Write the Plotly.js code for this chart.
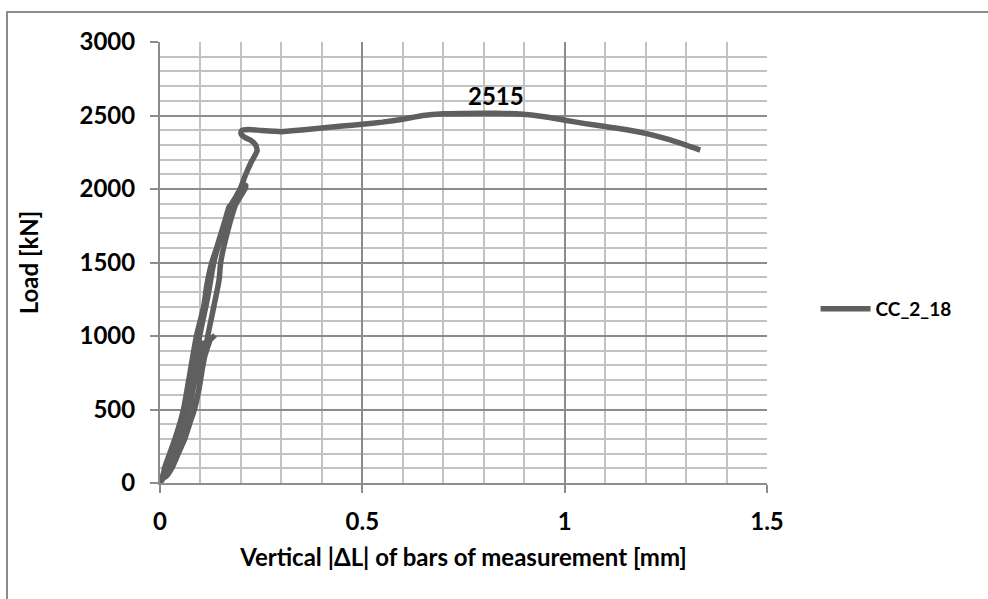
<!DOCTYPE html>
<html>
<head>
<meta charset="utf-8">
<script src="https://cdn.plot.ly/plotly-3.0.1.min.js"></script>
<style>html,body{margin:0;padding:0;background:#fff;}#chart{width:988px;height:599px;}</style>
</head>
<body>
<div id="chart"></div>
<script>
// Vertical |ΔL| of bars of measurement [mm]
const deltaL = [
  // load to 1000
  0, 0.013, 0.029, 0.045, 0.061, 0.073, 0.084, 0.096, 0.106, 0.114, 0.124, 0.136,
  // unload from 1000
  0.124, 0.107, 0.088, 0.075, 0.061, 0.049, 0.039, 0.026, 0.012, 0.004,
  // reload to 2000
  0.01, 0.019, 0.033, 0.048, 0.069, 0.088, 0.098, 0.118, 0.133, 0.153, 0.177, 0.202, 0.212,
  // unload from 2000
  0.21, 0.188, 0.166, 0.15, 0.146, 0.133, 0.118, 0.106, 0.096, 0.085, 0.059, 0.029, 0.014,
  // reload to 1000 again
  0.01, 0.022, 0.037, 0.052, 0.075, 0.09, 0.104, 0.1, 0.09, 0.076, 0.064, 0.043, 0.022, 0.008,
  // reload to failure
  0.011, 0.024, 0.037, 0.058, 0.071, 0.09, 0.108, 0.116, 0.128, 0.14, 0.16, 0.171, 0.178, 0.182, 0.198, 0.212, 0.225, 0.24,
  0.236, 0.225, 0.21, 0.2, 0.202, 0.22, 0.25, 0.3, 0.35, 0.4, 0.45, 0.5, 0.55, 0.6, 0.65, 0.7, 0.75, 0.83,
  0.89, 0.95, 1.0, 1.05, 1.1, 1.15, 1.2, 1.25, 1.3, 1.335
];
// Load [kN]
const load = [
  0, 50, 100, 200, 300, 400, 500, 633, 800, 900, 973, 1005,
  973, 837, 760, 700, 500, 400, 300, 200, 100, 20,
  60, 100, 200, 300, 500, 800, 1000, 1265, 1500, 1700, 1900, 2000, 2025,
  2000, 1900, 1700, 1500, 1381, 1200, 1000, 800, 633, 500, 300, 100, 40,
  60, 150, 250, 350, 550, 750, 950, 900, 750, 600, 450, 280, 120, 30,
  100, 200, 300, 500, 700, 1000, 1200, 1350, 1500, 1600, 1780, 1880, 1900, 1920, 2000, 2100, 2180, 2260,
  2300, 2330, 2350, 2378, 2398, 2405, 2398, 2390, 2402, 2415, 2428, 2440, 2455, 2475, 2500, 2512, 2514, 2515,
  2510, 2492, 2468, 2445, 2425, 2405, 2378, 2342, 2298, 2265
];
const seriesName = "CC_2_18";
const peakLabel = "2515";
const peakX = 0.83;
const peakY = 2515;
const xTitle = "Vertical |ΔL| of bars of measurement [mm]";
const yTitle = "Load [kN]";

const font = "Lato, 'Open Sans', 'DejaVu Sans', sans-serif";
const txt = {family: font, size: 24, color: "#000", weight: "bold"};
const data = [{
  x: deltaL, y: load, type: "scatter", mode: "lines", name: seriesName,
  line: {color: "#5f5f5f", width: 5.5, shape: "spline", smoothing: 0.5}
}];
const layout = {
  width: 988, height: 599,
  margin: {l: 160, r: 221, t: 42, b: 116},
  paper_bgcolor: "#fff", plot_bgcolor: "#fff",
  font: txt,
  showlegend: true,
  legend: {x: 1.08, y: 0.395, xanchor: "left", yanchor: "middle",
           font: {family: font, size: 19, color: "#000", weight: "bold"},
           bgcolor: "rgba(0,0,0,0)", itemwidth: 50},
  xaxis: {
    range: [0, 1.5], dtick: 0.5, tick0: 0, fixedrange: true,
    showgrid: true, gridcolor: "#8c8c8c", gridwidth: 2,
    minor: {dtick: 0.1, showgrid: true, gridcolor: "#c2c2c2", gridwidth: 2},
    zeroline: false, showline: true, linecolor: "#8c8c8c", linewidth: 2,
    ticks: "outside", ticklen: 8, tickcolor: "#8c8c8c", tickwidth: 2,
    ticklabelstandoff: 8,
    tickfont: txt,
    title: {text: xTitle, standoff: 15, font: txt}
  },
  yaxis: {
    range: [0, 3000], dtick: 500, tick0: 0, fixedrange: true,
    showgrid: true, gridcolor: "#8c8c8c", gridwidth: 2,
    minor: {dtick: 100, showgrid: true, gridcolor: "#c2c2c2", gridwidth: 2},
    zeroline: false, showline: true, linecolor: "#8c8c8c", linewidth: 2,
    ticks: "outside", ticklen: 8, tickcolor: "#8c8c8c", tickwidth: 2,
    ticklabelstandoff: 10,
    tickfont: txt,
    title: {text: yTitle, standoff: 34, font: txt}
  },
  annotations: [{
    x: peakX, y: peakY, xref: "x", yref: "y", text: peakLabel, showarrow: false,
    yshift: 18, font: txt
  }],
  shapes: [{
    type: "rect", xref: "paper", yref: "paper", layer: "below",
    x0: -153 / 607, x1: 840 / 607, y0: -200 / 441, y1: 1 + 30 / 441,
    line: {color: "#8c8c8c", width: 2}
  }]
};
Plotly.newPlot("chart", data, layout, {displayModeBar: false, staticPlot: true});
</script>
</body>
</html>
